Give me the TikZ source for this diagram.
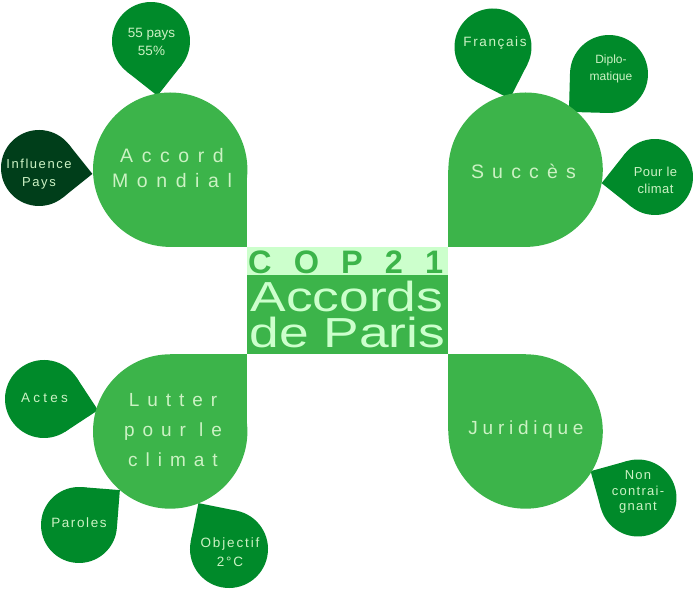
\documentclass[tikz,border=0pt]{standalone}
\usepackage{fontspec}
\setmainfont{Liberation Sans}
\newcommand{\lsp}[1]{\addfontfeature{LetterSpace=#1}}
\definecolor{petalgreen}{RGB}{60,180,74}
\definecolor{bubblegreen}{RGB}{0,138,42}
\definecolor{darkbubble}{RGB}{0,62,26}
\definecolor{textlight}{RGB}{204,242,196}
\definecolor{bandlight}{RGB}{204,255,204}
% #1 colour, #2 centre, #3 radius, #4 direction of the tip
\newcommand{\tearfill}[4]{%
  \begin{scope}[shift={#2}, rotate=#4-45]
    \fill[#1] (0,0) circle (#3);
    \fill[#1] (0,0) -- (#3,0) -- (#3,#3) -- (0,#3) -- cycle;
  \end{scope}}
\begin{document}
\begin{tikzpicture}[x=1pt,y=1pt,
  bigtxt/.style={text=textlight, align=center, inner sep=0pt},
  smalltxt/.style={text=textlight, align=center, inner sep=0pt}]
\useasboundingbox (0,0) rectangle (694,589);
% small bubbles
\tearfill{bubblegreen}{(151,548)}{39}{-83.3}
\tearfill{darkbubble}{(39,421)}{38}{-6.3}
\tearfill{bubblegreen}{(493,542)}{38.5}{-72}
\tearfill{bubblegreen}{(609,515)}{39}{223.4}
\tearfill{bubblegreen}{(655,412)}{38}{186.6}
\tearfill{bubblegreen}{(44,190)}{39}{-11.7}
\tearfill{bubblegreen}{(79,64)}{38}{40.5}
\tearfill{bubblegreen}{(229,40)}{39}{123.7}
\tearfill{bubblegreen}{(638,91)}{38.5}{150.5}
% big petals
\fill[petalgreen] (170.2,419.3) circle (77.2);
\fill[petalgreen] (170.2,419.3) rectangle (247.3,341.7);
\fill[petalgreen] (525.6,419.3) circle (77.2);
\fill[petalgreen] (525.6,419.3) rectangle (448.3,341.7);
\fill[petalgreen] (170.2,157.5) circle (77.2);
\fill[petalgreen] (170.2,157.5) rectangle (247.3,235);
\fill[petalgreen] (525.6,157.5) circle (77.2);
\fill[petalgreen] (525.6,157.5) rectangle (448.3,235);
% centre
\fill[bandlight] (247.3,314) rectangle (448.3,341.7);
\fill[petalgreen] (247.3,235) rectangle (448.3,314);
\node[anchor=base west, inner sep=0pt, text=petalgreen,
  font=\fontsize{32.5}{32.5}\selectfont\bfseries] (cop) at (248,315.7)
  {\makebox[195pt][s]{C\hfill O\hfill P\hfill 2\hfill 1}};
\node[anchor=base, inner sep=0pt, text=bandlight, xscale=1.27,
  font=\fontsize{42}{42}\selectfont] (accords) at (346.8,277.3) {Accords};
\node[anchor=base, inner sep=0pt, text=bandlight, xscale=1.27,
  font=\fontsize{42}{42}\selectfont] (paris) at (347.2,241.7) {de Paris};
% big labels
\node[bigtxt, font={\fontsize{19.5}{25.5}\selectfont\lsp{44}}] (accord) at (172,421) {Accord\\Mondial};
\node[bigtxt, anchor=base, font={\fontsize{19.5}{25.5}\selectfont\lsp{42}}] (succes) at (523.5,410) {Succès};
\node[bigtxt, font={\fontsize{19}{30}\selectfont\lsp{42}}] (lutter) at (173,159) {Lutter\\pour le\\climat};
\node[bigtxt, anchor=base, font={\fontsize{19}{25}\selectfont\lsp{25}}] (juridique) at (526,154) {Juridique};
% small labels
\node[smalltxt, font={\fontsize{13.5}{18}\selectfont}] (pays) at (151.5,546.7) {55 pays\\55\%};
\node[smalltxt, font={\fontsize{13}{18}\selectfont\lsp{12}}] (influence) at (39,415.2) {Influence\\Pays};
\node[smalltxt, anchor=base, font={\fontsize{13.5}{18}\selectfont\lsp{12}}] (francais) at (495,542.3) {Français};
\node[smalltxt, font={\fontsize{12}{17}\selectfont}] (diplo) at (611,520) {Diplo-\\matique};
\node[smalltxt, font={\fontsize{13}{17}\selectfont\lsp{3}}] (pour) at (655.5,409) {Pour le\\climat};
\node[smalltxt, anchor=base, font={\fontsize{13.5}{18}\selectfont\lsp{24}}] (actes) at (44.5,186.3) {Actes};
\node[smalltxt, anchor=base, font={\fontsize{13.5}{18}\selectfont\lsp{12}}] (paroles) at (79,61.3) {Paroles};
\node[smalltxt, font={\fontsize{13.5}{19}\selectfont\lsp{14}}] (objectif) at (230,36.8) {Objectif\\2°C};
\node[smalltxt, font={\fontsize{13}{15.5}\selectfont\lsp{10}}] (non) at (638,97) {Non\\contrai-\\gnant};
\end{tikzpicture}
\end{document}
